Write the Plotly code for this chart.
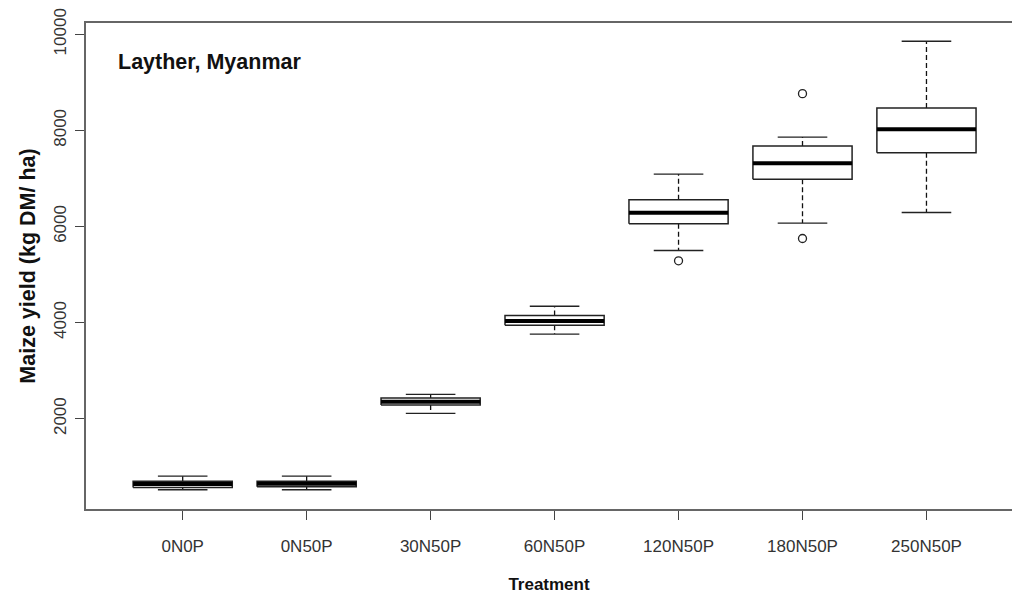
import plotly.graph_objects as go

# Maize yield by fertiliser treatment (kg DM / ha), summarised as boxplot statistics
treatments = ["0N0P", "0N50P", "30N50P", "60N50P", "120N50P", "180N50P", "250N50P"]
lower_whisker = [520, 520, 2110, 3760, 5500, 6070, 6290]
q1 = [570, 585, 2285, 3945, 6055, 6985, 7535]
median = [640, 645, 2350, 4035, 6285, 7315, 8025]
q3 = [700, 700, 2430, 4145, 6555, 7675, 8465]
upper_whisker = [805, 805, 2505, 4340, 7090, 7860, 9855]
outliers = {"120N50P": [5285], "180N50P": [8765, 5750]}

y_ticks = [2000, 4000, 6000, 8000, 10000]
y_tick_labels = ["2000", "4000", "6000", "8000", "10000"]

BOX_HALF = 0.4     # half box width, in category units
CAP_HALF = 0.2     # half staple width
FONT = "Liberation Sans, Arial, sans-serif"

positions = list(range(1, len(treatments) + 1))

box_x, box_y = [], []
med_x, med_y = [], []
wh_x, wh_y = [], []
cap_x, cap_y = [], []
for p, lo, a, m, b, hi in zip(positions, lower_whisker, q1, median, q3, upper_whisker):
    box_x += [p - BOX_HALF, p + BOX_HALF, p + BOX_HALF, p - BOX_HALF, p - BOX_HALF, None]
    box_y += [a, a, b, b, a, None]
    med_x += [p - BOX_HALF, p + BOX_HALF, None]
    med_y += [m, m, None]
    wh_x += [p, p, None, p, p, None]
    wh_y += [b, hi, None, a, lo, None]
    cap_x += [p - CAP_HALF, p + CAP_HALF, None, p - CAP_HALF, p + CAP_HALF, None]
    cap_y += [hi, hi, None, lo, lo, None]

out_x, out_y = [], []
for name, vals in outliers.items():
    p = positions[treatments.index(name)]
    out_x += [p] * len(vals)
    out_y += vals

fig = go.Figure()
fig.add_trace(go.Scatter(x=wh_x, y=wh_y, mode="lines",
                         line=dict(color="#111", width=1.3, dash="5px,3px"),
                         hoverinfo="skip", showlegend=False))
fig.add_trace(go.Scatter(x=cap_x, y=cap_y, mode="lines",
                         line=dict(color="#222", width=1.4),
                         hoverinfo="skip", showlegend=False))
fig.add_trace(go.Scatter(x=box_x, y=box_y, mode="lines", fill="toself",
                         fillcolor="white", line=dict(color="#222", width=1.5),
                         hoverinfo="skip", showlegend=False))
fig.add_trace(go.Scatter(x=med_x, y=med_y, mode="lines",
                         line=dict(color="black", width=4),
                         hoverinfo="skip", showlegend=False))
fig.add_trace(go.Scatter(x=out_x, y=out_y, mode="markers",
                         marker=dict(symbol="circle-open", size=8,
                                     color="#222", line=dict(width=1.3)),
                         showlegend=False))

fig.add_annotation(text="<b>Layther, Myanmar</b>", xref="paper", yref="paper",
                   x=0.032, y=0.92, xanchor="left", yanchor="middle",
                   showarrow=False, font=dict(family=FONT, size=21.5, color="#111"))

fig.update_layout(
    width=1012, height=594,
    margin=dict(l=86, r=0, t=23, b=85),
    paper_bgcolor="white", plot_bgcolor="white",
    font=dict(family=FONT, color="#333"),
    xaxis=dict(
        range=[0.22, 7.69], tickvals=positions, ticktext=treatments,
        showgrid=False, zeroline=False,
        showline=True, mirror=True, linecolor="#666", linewidth=1.6,
        ticks="outside", ticklen=9, tickcolor="#444", tickwidth=1.2,
        ticklabelstandoff=12,
        tickfont=dict(size=17, color="#333"),
        title=dict(text="<b>Treatment</b>", standoff=23,
                   font=dict(size=17, color="#111")),
    ),
    yaxis=dict(
        range=[120, 10235], tickvals=y_ticks, ticktext=y_tick_labels,
        tickangle=-90,
        showgrid=False, zeroline=False,
        showline=True, linecolor="#666", linewidth=1.6,
        ticks="outside", ticklen=9, tickcolor="#444", tickwidth=1.2,
        ticklabelstandoff=2,
        tickfont=dict(size=17, color="#333"),
        title=dict(text="<b>Maize yield (kg DM/ ha)</b>", standoff=10,
                   font=dict(size=21.5, color="#111")),
    ),
)

fig.write_html("out.html")
